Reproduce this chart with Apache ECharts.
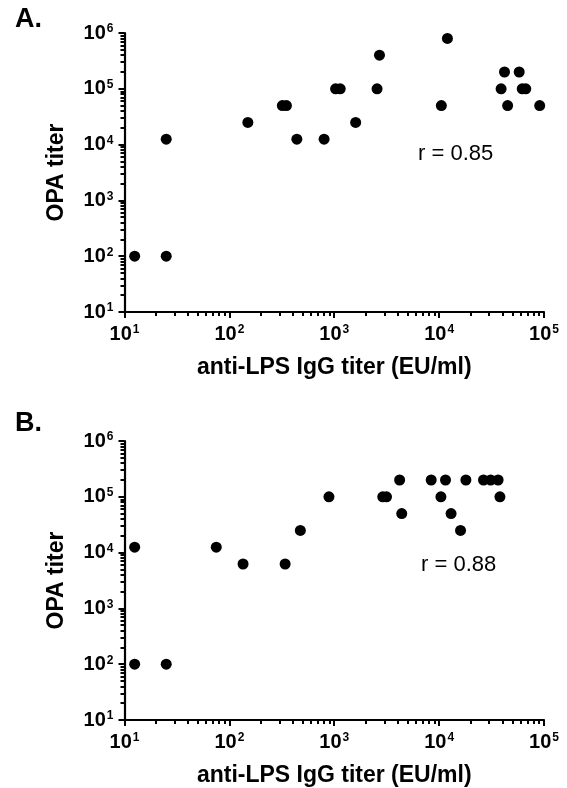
<!DOCTYPE html>
<html>
<head>
<meta charset="utf-8">
<script src="https://cdn.jsdelivr.net/npm/echarts@6/dist/echarts.min.js"></script>
<style>
html,body{margin:0;padding:0;background:#fff;}
#chart{width:567px;height:788px;}
</style>
</head>
<body>
<div id="chart"></div>
<script>
// Panel A data
const aX = [12.5, 25, 25, 150, 320, 350, 440, 800, 1030, 1140, 1600, 2560, 2700, 10500, 12000, 39000, 42000, 45000, 58000, 62000, 67000, 91000];
const aY = [100, 100, 12500, 25000, 50000, 50000, 12500, 12500, 100000, 100000, 25000, 100000, 400000, 50000, 800000, 100000, 200000, 50000, 200000, 100000, 100000, 50000];
// Panel B data
const bX = [12.5, 12.5, 25, 75, 135, 340, 475, 890, 2900, 3150, 4200, 4400, 8400, 10400, 11500, 13000, 16000, 18000, 26500, 31000, 36500, 38000];
const bY = [100, 12500, 100, 12500, 6250, 6250, 25000, 100000, 100000, 100000, 200000, 50000, 200000, 100000, 200000, 50000, 25000, 200000, 200000, 200000, 200000, 100000];

const xMajor = [10, 100, 1000, 10000, 100000];
const yMajor = [10, 100, 1000, 10000, 100000, 1000000];
const panelLabels = ['A.', 'B.'];
const rTexts = ['r = 0.85', 'r = 0.88'];
const xTitle = 'anti-LPS IgG titer (EU/ml)';
const yTitle = 'OPA titer';

function minorOf(majors) {
  const out = [];
  for (let i = 0; i < majors.length - 1; i++) {
    for (let k = 2; k <= 9; k++) out.push(majors[i] * k);
  }
  return out;
}
const xMinor = minorOf(xMajor);
const yMinor = minorOf(yMajor);

const FONT = "'Liberation Sans', Arial, sans-serif";
const rich = {
  b: {fontSize: 20, fontWeight: 'bold', fontFamily: FONT, color: '#000', lineHeight: 20},
  s: {fontSize: 12, fontWeight: 'bold', fontFamily: FONT, color: '#000', verticalAlign: 'top', lineHeight: 12, padding: [0, 0, 0, 1]}
};
function powFmt(v) {
  const e = Math.round(Math.log10(v));
  return '{b|10}{s|' + e + '}';
}

const grids = [
  {left: 124.5, top: 33, width: 419.5, height: 279},
  {left: 124.5, top: 441, width: 419.5, height: 279}
];

const xAxes = [], yAxes = [];
grids.forEach((g, gi) => {
  xAxes.push({
    type: 'log', logBase: 10, gridIndex: gi, min: 10, max: 100000, position: 'bottom',
    axisLine: {show: true, lineStyle: {color: '#000', width: 2.2}},
    axisTick: {show: true, inside: false, length: 6, lineStyle: {color: '#000', width: 2}, customValues: xMajor},
    axisLabel: {show: true, margin: 12, rich: rich, formatter: powFmt, customValues: xMajor},
    splitLine: {show: false},
    minorTick: {show: false},
    name: xTitle, nameLocation: 'middle', nameGap: 44,
    nameTextStyle: {fontFamily: FONT, fontWeight: 'bold', fontSize: 23, color: '#000'}
  });
  xAxes.push({
    type: 'log', logBase: 10, gridIndex: gi, min: 10, max: 100000, position: 'bottom',
    axisLine: {show: false},
    axisTick: {show: true, inside: false, length: 4, lineStyle: {color: '#000', width: 2}, customValues: xMinor},
    axisLabel: {show: false},
    splitLine: {show: false}
  });
  yAxes.push({
    type: 'log', logBase: 10, gridIndex: gi, min: 10, max: 1000000, position: 'left',
    axisLine: {show: true, lineStyle: {color: '#000', width: 2.2}},
    axisTick: {show: true, inside: false, length: 6, lineStyle: {color: '#000', width: 2}, customValues: yMajor},
    axisLabel: {show: true, margin: 11, rich: rich, formatter: powFmt, customValues: yMajor},
    splitLine: {show: false},
    name: yTitle, nameLocation: 'middle', nameGap: 56, nameRotate: 90,
    nameTextStyle: {fontFamily: FONT, fontWeight: 'bold', fontSize: 23, color: '#000'}
  });
  yAxes.push({
    type: 'log', logBase: 10, gridIndex: gi, min: 10, max: 1000000, position: 'left',
    axisLine: {show: false},
    axisTick: {show: true, inside: false, length: 4, lineStyle: {color: '#000', width: 2}, customValues: yMinor},
    axisLabel: {show: false},
    splitLine: {show: false}
  });
});

function pairs(xs, ys) { return xs.map((x, i) => [x, ys[i]]); }

const option = {
  animation: false,
  backgroundColor: '#fff',
  grid: grids,
  xAxis: xAxes,
  yAxis: yAxes,
  series: [
    {type: 'scatter', xAxisIndex: 0, yAxisIndex: 0, data: pairs(aX, aY), symbol: 'circle', symbolSize: 11, itemStyle: {color: '#000', opacity: 1}},
    {type: 'scatter', xAxisIndex: 2, yAxisIndex: 2, data: pairs(bX, bY), symbol: 'circle', symbolSize: 11, itemStyle: {color: '#000', opacity: 1}}
  ],
  graphic: [
    {type: 'text', left: 15, top: 6, style: {text: panelLabels[0], font: "bold 27px " + FONT, fill: '#000'}},
    {type: 'text', left: 15, top: 410, style: {text: panelLabels[1], font: "bold 27px " + FONT, fill: '#000'}},
    {type: 'text', left: 418, top: 143, style: {text: rTexts[0], font: "22px " + FONT, fill: '#000'}},
    {type: 'text', left: 421, top: 554, style: {text: rTexts[1], font: "22px " + FONT, fill: '#000'}}
  ]
};

const chart = echarts.init(document.getElementById('chart'), null, {renderer: 'canvas'});
chart.setOption(option);
</script>
</body>
</html>
